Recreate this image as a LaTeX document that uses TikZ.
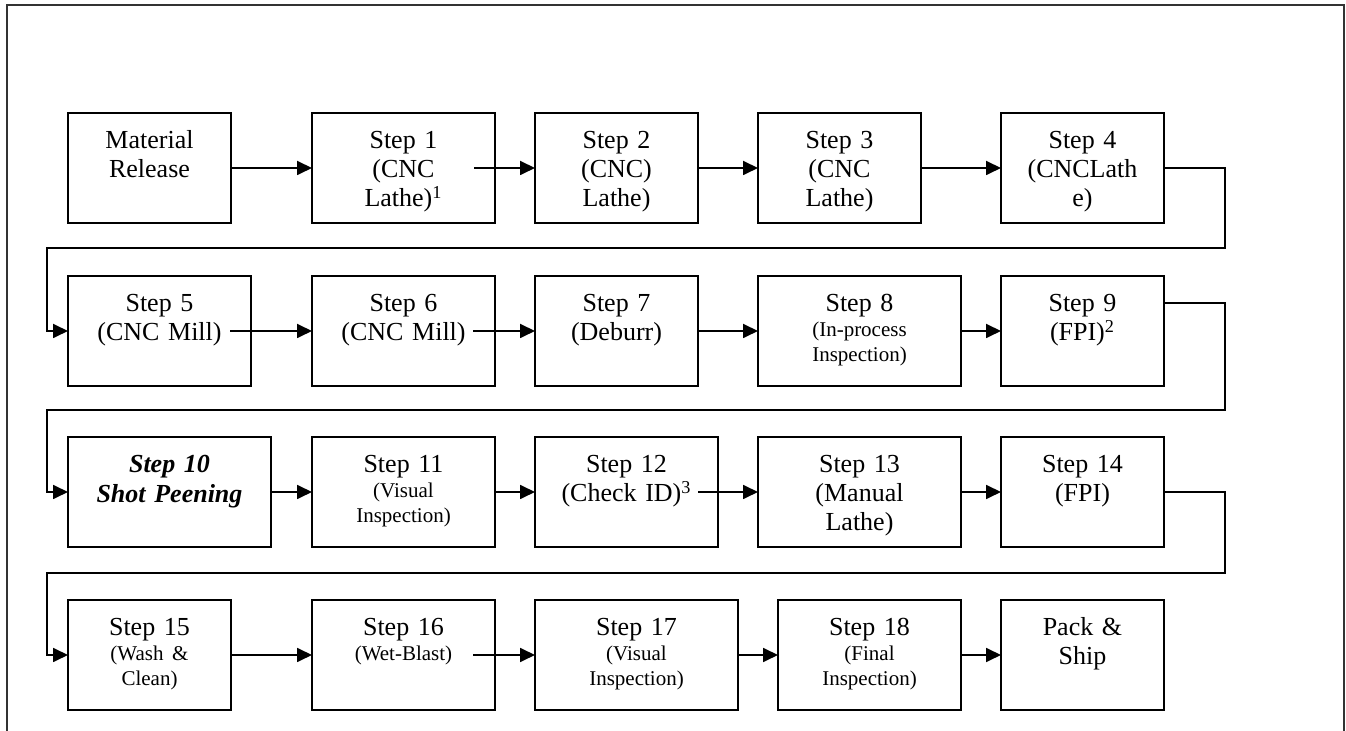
\documentclass[tikz,border=0pt]{standalone}
\usepackage{fontspec}
\setmainfont{Liberation Serif}
\usepackage{tikz}
\usetikzlibrary{arrows.meta,positioning}
\newcommand{\smalltxt}[1]{{\fontsize{10.5}{12.5}\selectfont #1}}
\tikzset{
  stepbox/.style={rectangle, draw=black, line width=0.9pt, fill=white, outer sep=0pt,
                  inner xsep=2pt, inner ysep=0pt, text height=18pt, text depth=37pt,
                  align=center, font=\fontsize{13}{14.5}\selectfont},
  narrowbox/.style={text width=77.5pt},
  midbox/.style={text width=87.5pt},
  widebox/.style={text width=97.5pt},
  smallspacing/.style={font=\fontsize{13}{12.5}\selectfont},
  arrow/.style={-{Triangle[length=7.5pt,width=7pt]}, line width=0.9pt},
  frame/.style={line width=0.9pt, draw=black!80}
}

\begin{document}
\begin{tikzpicture}[x=0.5pt, y=-0.5pt]
\useasboundingbox (0,0) rectangle (1346,731);
\draw[frame] (7,731) -- (7,5) -- (1344,5) -- (1344,731);

\node[stepbox, narrowbox, anchor=north west] (mr) at (68,113) {Material\\Release};
\node[stepbox, midbox, right=40.5pt of mr] (s1) {Step 1\\(CNC\\Lathe)\textsuperscript{1}};
\node[stepbox, narrowbox, right=20pt of s1] (s2) {Step 2\\(CNC)\\Lathe)};
\node[stepbox, narrowbox, right=30pt of s2] (s3) {Step 3\\(CNC\\Lathe)};
\node[stepbox, narrowbox, right=40pt of s3] (s4) {Step 4\\(CNCLath\\e)};

\node[stepbox, midbox, anchor=north west] (s5) at (68,276) {Step 5\\(CNC Mill)};
\node[stepbox, midbox, right=30.5pt of s5] (s6) {Step 6\\(CNC Mill)};
\node[stepbox, narrowbox, right=20pt of s6] (s7) {Step 7\\(Deburr)};
\node[stepbox, widebox, smallspacing, right=30pt of s7] (s8) {Step 8\\\smalltxt{(In-process}\\\smalltxt{Inspection)}};
\node[stepbox, narrowbox, right=20pt of s8] (s9) {Step 9\\(FPI)\textsuperscript{2}};

\node[stepbox, widebox, anchor=north west, font=\fontsize{13}{15}\selectfont\bfseries\itshape] (s10) at (68,437) {Step 10\\Shot Peening};
\node[stepbox, midbox, smallspacing, right=20.5pt of s10] (s11) {Step 11\\\smalltxt{(Visual}\\\smalltxt{Inspection)}};
\node[stepbox, midbox, right=20pt of s11] (s12) {Step 12\\(Check ID)\textsuperscript{3}};
\node[stepbox, widebox, right=20pt of s12] (s13) {Step 13\\(Manual\\Lathe)};
\node[stepbox, narrowbox, right=20pt of s13] (s14) {Step 14\\(FPI)};

\node[stepbox, narrowbox, smallspacing, anchor=north west] (s15) at (68,600) {Step 15\\\smalltxt{(Wash \&}\\\smalltxt{Clean)}};
\node[stepbox, midbox, smallspacing, right=40.5pt of s15] (s16) {Step 16\\\smalltxt{(Wet-Blast)}};
\node[stepbox, widebox, smallspacing, right=20pt of s16] (s17) {Step 17\\\smalltxt{(Visual}\\\smalltxt{Inspection)}};
\node[stepbox, midbox, smallspacing, right=20pt of s17] (s18) {Step 18\\\smalltxt{(Final}\\\smalltxt{Inspection)}};
\node[stepbox, narrowbox, right=20pt of s18] (ps) {Pack \&\\Ship};

\coordinate (r1) at (1225,248);
\coordinate (l1) at (47,248);
\coordinate (r2) at (1225,410);
\coordinate (l2) at (47,410);
\coordinate (r3) at (1225,573);
\coordinate (l3) at (47,573);

\draw[arrow] (mr.east) -- (s1.west);
\draw[arrow] ([xshift=-10.5pt]s1.east) -- (s2.west);
\draw[arrow] (s2.east) -- (s3.west);
\draw[arrow] (s3.east) -- (s4.west);
\draw[arrow] (s4.east) -| (r1) -- (l1) |- (s5.west);

\draw[arrow] ([xshift=-10.5pt]s5.east) -- (s6.west);
\draw[arrow] ([xshift=-11pt]s6.east) -- (s7.west);
\draw[arrow] (s7.east) -- (s8.west);
\draw[arrow] (s8.east) -- (s9.west);
\draw[arrow] ([yshift=14pt]s9.east) -| (r2) -- (l2) |- (s10.west);

\draw[arrow] (s10.east) -- (s11.west);
\draw[arrow] (s11.east) -- (s12.west);
\draw[arrow] ([xshift=-10pt]s12.east) -- (s13.west);
\draw[arrow] (s13.east) -- (s14.west);
\draw[arrow] (s14.east) -| (r3) -- (l3) |- (s15.west);

\draw[arrow] (s15.east) -- (s16.west);
\draw[arrow] ([xshift=-11pt]s16.east) -- (s17.west);
\draw[arrow] (s17.east) -- (s18.west);
\draw[arrow] (s18.east) -- (ps.west);
\end{tikzpicture}
\end{document}
